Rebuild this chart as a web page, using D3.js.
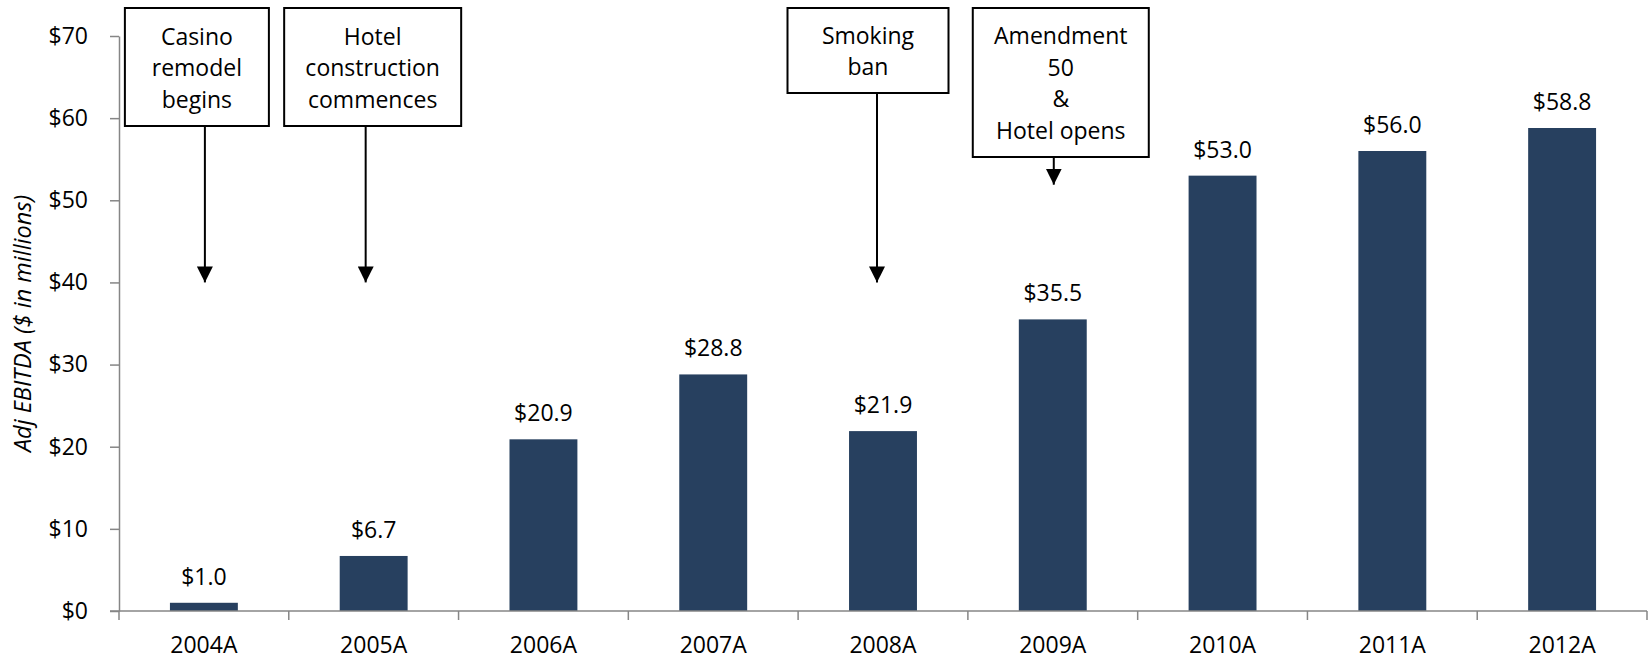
<!DOCTYPE html>
<html>
<head>
<meta charset="utf-8">
<script src="https://cdn.jsdelivr.net/npm/d3@7"></script>
<style>
  html, body { margin: 0; padding: 0; background: #fff; }
  svg text { font-family: "Open Sans", "Noto Sans", sans-serif; fill: #000; }
</style>
</head>
<body>
<svg id="chart" width="1648" height="659"></svg>
<script>
// ---- data ----
const categories = ["2004A", "2005A", "2006A", "2007A", "2008A", "2009A", "2010A", "2011A", "2012A"];
const ebitda = [1.0, 6.7, 20.9, 28.8, 21.9, 35.5, 53.0, 56.0, 58.8];
const yTicks = [0, 10, 20, 30, 40, 50, 60, 70];
const yTitle = "Adj EBITDA ($ in millions)";
const eventCats = ["2004A", "2005A", "2008A", "2009A"];
const eventTexts = [
  ["Casino", "remodel", "begins"],
  ["Hotel", "construction", "commences"],
  ["Smoking", "ban"],
  ["Amendment", "50", "&", "Hotel opens"]
];
const eventArrowTips = [40, 40, 40, 51.9];

// ---- layout (pixels) ----
const eventLayout = [
  { boxDx: -7,  boxW: 144, boxBottom: 126, arrowDx: 1 },
  { boxDx: -1,  boxW: 177, boxBottom: 126, arrowDx: -8 },
  { boxDx: -15, boxW: 161, boxBottom: 93,  arrowDx: -6 },
  { boxDx: 8,   boxW: 176, boxBottom: 157, arrowDx: 1 }
];
const plot = { left: 119, right: 1647, top: 36, bottom: 611 };
const fontSize = 23;
const barColor = "#27405F";
const axisColor = "#868686";

const svg = d3.select("#chart");

const x = d3.scaleBand()
  .domain(categories)
  .range([plot.left, plot.right])
  .paddingInner(0.6)
  .paddingOuter(0.3);

const y = d3.scaleLinear()
  .domain([0, 70])
  .range([plot.bottom, plot.top]);

// bars
svg.append("g").selectAll("rect")
  .data(categories)
  .join("rect")
  .attr("x", d => x(d))
  .attr("y", (d, i) => y(ebitda[i]))
  .attr("width", x.bandwidth())
  .attr("height", (d, i) => y(0) - y(ebitda[i]))
  .attr("fill", barColor);

// value labels
svg.append("g").selectAll("text")
  .data(categories)
  .join("text")
  .attr("x", d => x(d) + x.bandwidth() / 2)
  .attr("y", (d, i) => y(ebitda[i]) - 18)
  .attr("text-anchor", "middle")
  .style("font-size", fontSize + "px")
  .text((d, i) => "$" + ebitda[i].toFixed(1));

// y axis
const yAxis = d3.axisLeft(y)
  .tickValues(yTicks)
  .tickSize(9)
  .tickSizeOuter(0)
  .tickPadding(22)
  .tickFormat(d => "$" + d);
const gy = svg.append("g")
  .attr("transform", `translate(${plot.left},0)`)
  .call(yAxis);
gy.select(".domain").attr("stroke", axisColor).attr("stroke-width", 1.5);
gy.selectAll(".tick line").attr("stroke", axisColor).attr("stroke-width", 1.5);
gy.selectAll(".tick text")
  .style("font-size", fontSize + "px")
  .style("font-family", "'Open Sans', sans-serif")
  .attr("fill", "#000");

// x axis (labels at band centers, ticks at band boundaries)
const xAxis = d3.axisBottom(x).tickSize(0).tickPadding(26);
const gx = svg.append("g")
  .attr("transform", `translate(0,${plot.bottom})`)
  .call(xAxis);
gx.select(".domain").remove();
gx.selectAll(".tick text")
  .style("font-size", fontSize + "px")
  .style("font-family", "'Open Sans', sans-serif")
  .attr("fill", "#000");

const gap = (x.step() - x.bandwidth()) / 2;
const boundaries = categories.map(c => x(c) - gap).concat([x(categories[categories.length - 1]) + x.bandwidth() + gap]);
gx.append("line")
  .attr("x1", plot.left - 9).attr("x2", plot.right)
  .attr("y1", 0).attr("y2", 0)
  .attr("stroke", axisColor).attr("stroke-width", 1.5);
gx.selectAll("line.bt")
  .data(boundaries)
  .join("line")
  .attr("class", "bt")
  .attr("x1", d => d).attr("x2", d => d)
  .attr("y1", 0).attr("y2", 9)
  .attr("stroke", axisColor).attr("stroke-width", 1.5);

// y title
svg.append("text")
  .attr("transform", `translate(31,${(plot.top + plot.bottom) / 2}) rotate(-90)`)
  .attr("text-anchor", "middle")
  .style("font-size", "23.5px")
  .style("font-style", "italic")
  .text(yTitle);

// annotations
const defs = svg.append("defs");
defs.append("marker")
  .attr("id", "ah")
  .attr("viewBox", "0 0 16 16")
  .attr("refX", 8).attr("refY", 16)
  .attr("markerWidth", 16).attr("markerHeight", 16)
  .attr("markerUnits", "userSpaceOnUse")
  .attr("orient", "0")
  .append("path")
  .attr("d", "M0,0 L16,0 L8,16 Z")
  .attr("fill", "#000");

const lineH = 31.5;
eventCats.forEach((cat, i) => {
  const L = eventLayout[i];
  const cx = x(cat) + x.bandwidth() / 2;
  const bx = cx + L.boxDx - L.boxW / 2;
  const top = 8;
  const g = svg.append("g");
  g.append("rect")
    .attr("x", bx).attr("y", top)
    .attr("width", L.boxW).attr("height", L.boxBottom - top)
    .attr("fill", "#fff").attr("stroke", "#000").attr("stroke-width", 2);
  const lines = eventTexts[i];
  const mid = (top + L.boxBottom) / 2;
  lines.forEach((t, j) => {
    g.append("text")
      .attr("x", cx + L.boxDx)
      .attr("y", mid + 9 + (j - (lines.length - 1) / 2) * lineH)
      .attr("text-anchor", "middle")
      .style("font-size", fontSize + "px")
      .text(t);
  });
  const ax = cx + L.arrowDx;
  g.append("line")
    .attr("x1", ax).attr("x2", ax)
    .attr("y1", L.boxBottom + 1).attr("y2", y(eventArrowTips[i]))
    .attr("stroke", "#000").attr("stroke-width", 2)
    .attr("marker-end", "url(#ah)");
});
</script>
</body>
</html>
